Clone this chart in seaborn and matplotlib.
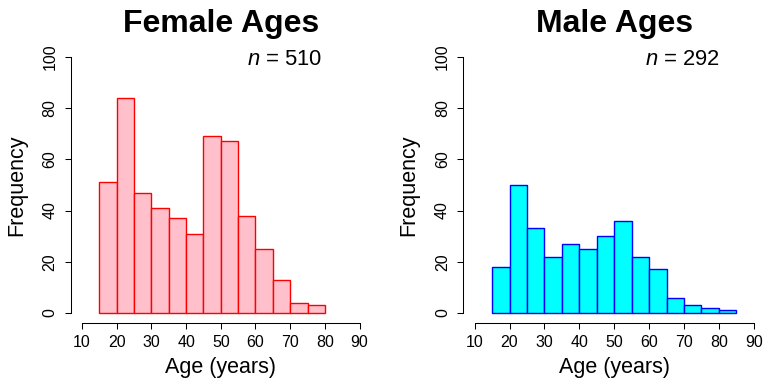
import numpy as np
import pandas as pd
import matplotlib
matplotlib.use("Agg")
import matplotlib.pyplot as plt
import seaborn as sns

# Age histogram counts in 5-year bins starting at 15
bin_width = 5
bin_start = 15
female_counts = [51, 84, 47, 41, 37, 31, 69, 67, 38, 25, 13, 4, 3]
male_counts = [18, 50, 33, 22, 27, 25, 30, 36, 22, 17, 6, 3, 2, 1]
x_ticks = [10, 20, 30, 40, 50, 60, 70, 80, 90]
y_ticks = [0, 20, 40, 60, 80, 100]
titles = ["Female Ages", "Male Ages"]
x_label = "Age (years)"
y_label = "Frequency"

sns.set_theme(style="ticks")
plt.rcParams["font.family"] = ["Liberation Sans", "DejaVu Sans"]
plt.rcParams["mathtext.fontset"] = "custom"
plt.rcParams["mathtext.rm"] = "Liberation Sans"
plt.rcParams["mathtext.it"] = "Liberation Sans:italic"
plt.rcParams["text.color"] = "black"
plt.rcParams["axes.labelcolor"] = "black"

fig = plt.figure(figsize=(7.65, 3.81), dpi=100)
W, H = 765, 381


def add_axes(left_px, right_px, top_px, bottom_px):
    return fig.add_axes([left_px / W, 1 - bottom_px / H,
                         (right_px - left_px) / W, (bottom_px - top_px) / H])


panels = [
    dict(counts=female_counts, face="#FFC0CB", edge="#FF0000",
         box=(70.9, 370.7, 46.5, 323.3), n_x=79.2),
    dict(counts=male_counts, face="#00FFFF", edge="#0000FF",
         box=(463.5, 765.0, 46.5, 323.3), n_x=80.2),
]

for p, title in zip(panels, titles):
    ax = add_axes(*p["box"])
    counts = np.array(p["counts"])
    n_bins = len(counts)
    lo = bin_start
    hi = bin_start + bin_width * n_bins
    edges = lo + bin_width * np.arange(n_bins + 1)
    df = pd.DataFrame({"age": (edges[:-1] + edges[1:]) / 2,
                       "count": counts.astype(float)})
    sns.histplot(data=df, x="age", weights="count", binwidth=bin_width,
                 binrange=(lo, hi), ax=ax,
                 color=p["face"], edgecolor=p["edge"], linewidth=1.0,
                 alpha=1.0)
    ax.set_xlim(6.8, 93.2)
    ax.set_ylim(-4, 104)
    ax.set_xticks(x_ticks)
    ax.set_yticks(y_ticks)
    ax.set_yticklabels([str(v) for v in y_ticks], rotation=90, va="center")
    ax.tick_params(axis="both", direction="out", length=4.3, width=0.75,
                   labelsize=11.5, colors="black")
    ax.tick_params(axis="x", pad=4.3)
    ax.tick_params(axis="y", pad=5.5)
    for side in ("top", "right"):
        ax.spines[side].set_visible(False)
    ax.spines["left"].set_bounds(0, 100)
    ax.spines["bottom"].set_bounds(10, 90)
    for side in ("left", "bottom"):
        ax.spines[side].set_linewidth(0.75)
        ax.spines[side].set_color("black")
    ax.set_xlabel(x_label, fontsize=15.5, labelpad=5)
    ax.set_ylabel(y_label, fontsize=15.5, labelpad=11)
    ax.set_title(title, fontsize=23, fontweight="bold", pad=10.2)
    ax.text(p["n_x"], 99, r"$n$ = %d" % counts.sum(), ha="right",
            va="center", fontsize=15.8)
    ax.grid(False)
    ax.set_facecolor("white")

fig.savefig("out.png", dpi=100, facecolor="white")
